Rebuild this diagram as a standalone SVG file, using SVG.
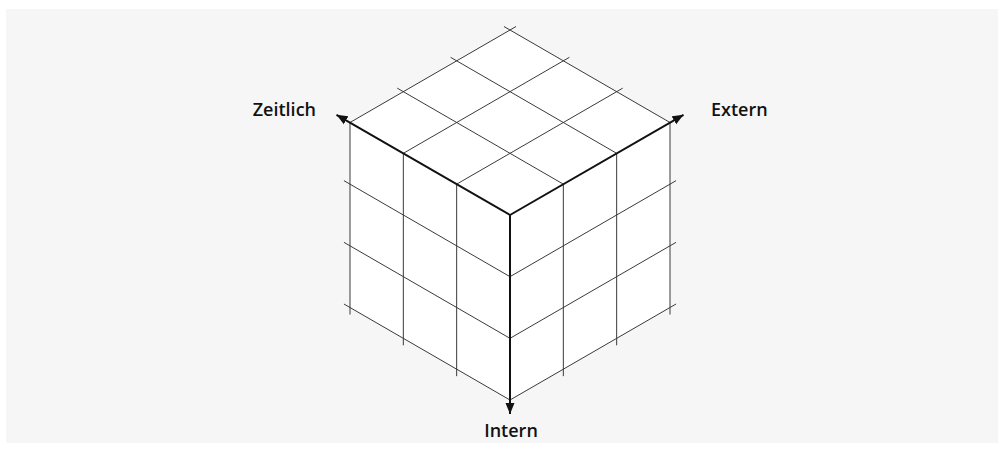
<svg xmlns="http://www.w3.org/2000/svg" width="1004" height="452" viewBox="0 0 1004 452">
  <style>
    .grid { stroke: #3a3a3a; stroke-width: 1; fill: none; }
    .axis { stroke: #111; stroke-width: 2; fill: none; }
    .lbl { font-family: "Open Sans", "Liberation Sans", sans-serif; font-weight: 600; font-size: 18px; fill: #111; }
  </style>
  <defs>
    <marker id="arr" markerUnits="userSpaceOnUse" markerWidth="12" markerHeight="10" refX="11" refY="5" orient="auto">
      <path d="M0,0.5 L11,5 L0,9.5 Z" fill="#111"/>
    </marker>
  </defs>
  <rect x="6" y="9" width="992" height="434" fill="#f6f6f6"/>
  <g id="cube">
    <polygon points="510,30 670,122.5 670,307.5 510,400 350,307.5 350,122.5" fill="#ffffff"/>
  </g>
  <g id="top-face" class="grid">
    <line x1="503.94" y1="26.5" x2="670" y2="122.5"/>
    <line x1="450.61" y1="57.33" x2="616.67" y2="153.33"/>
    <line x1="397.27" y1="88.17" x2="563.33" y2="184.17"/>
    <line x1="516.06" y1="26.5" x2="350" y2="122.5"/>
    <line x1="569.39" y1="57.33" x2="403.33" y2="153.33"/>
    <line x1="622.73" y1="88.17" x2="456.67" y2="184.17"/>
  </g>
  <g id="left-face" class="grid">
    <line x1="350" y1="122.5" x2="350" y2="314.5"/>
    <line x1="403.33" y1="153.33" x2="403.33" y2="345.33"/>
    <line x1="456.67" y1="184.17" x2="456.67" y2="376.17"/>
    <line x1="343.94" y1="180.67" x2="510" y2="276.67"/>
    <line x1="343.94" y1="242.33" x2="510" y2="338.33"/>
    <line x1="343.94" y1="304" x2="510" y2="400"/>
  </g>
  <g id="right-face" class="grid">
    <line x1="563.33" y1="184.17" x2="563.33" y2="376.17"/>
    <line x1="616.67" y1="153.33" x2="616.67" y2="345.33"/>
    <line x1="670" y1="122.5" x2="670" y2="314.5"/>
    <line x1="510" y1="276.67" x2="676.06" y2="180.67"/>
    <line x1="510" y1="338.33" x2="676.06" y2="242.33"/>
    <line x1="510" y1="400" x2="676.06" y2="304"/>
  </g>
  <g id="connectors">
    <line class="axis" x1="510" y1="215" x2="336.5" y2="114.8" marker-end="url(#arr)"/>
    <line class="axis" x1="510" y1="215" x2="683.5" y2="114.8" marker-end="url(#arr)"/>
    <line class="axis" x1="510" y1="215" x2="510" y2="414" marker-end="url(#arr)"/>
  </g>
  <g id="label-zeitlich"><text class="lbl" x="316" y="116" text-anchor="end">Zeitlich</text></g>
  <g id="label-extern"><text class="lbl" x="711" y="116">Extern</text></g>
  <g id="label-intern"><text class="lbl" x="511" y="437" text-anchor="middle">Intern</text></g>
</svg>
